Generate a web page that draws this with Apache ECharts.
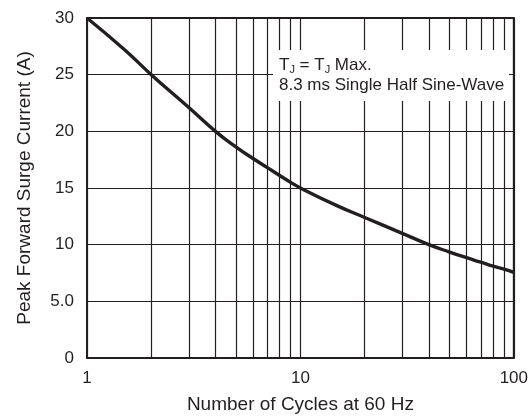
<!DOCTYPE html>
<html><head><meta charset="utf-8">
<script src="https://cdn.jsdelivr.net/npm/echarts@6/dist/echarts.min.js"></script>
<style>html,body{margin:0;padding:0;background:#fff}#c{width:531px;height:419px}</style>
</head><body><div id="c"></div>
<script>
const cycles = [1, 1.5, 2, 3, 4, 5, 6, 7, 8, 9, 10, 15, 20, 30, 40, 50, 60, 70, 80, 90, 100];
const current = [30, 27.2, 25, 22.1, 20.0, 18.6, 17.6, 16.8, 16.1, 15.5, 15.0, 13.4, 12.4, 11.0, 10.0, 9.35, 8.85, 8.45, 8.1, 7.85, 7.55];
const minorGridX = [2, 3, 4, 5, 6, 7, 8, 9, 20, 30, 40, 50, 60, 70, 80, 90];
const yTickLabels = ['0', '5.0', '10', '15', '20', '25', '30'];
const xTitle = 'Number of Cycles at 60 Hz';
const yTitle = 'Peak Forward Surge Current (A)';
const noteLine1 = 'T{s|J} = T{s|J} Max.';
const noteLine2 = '8.3 ms Single Half Sine-Wave';

const ink = '#231f20';
const font = '"Liberation Sans", Arial, Helvetica, sans-serif';
const chart = echarts.init(document.getElementById('c'), null, {renderer: 'canvas'});
chart.setOption({
  animation: false,
  backgroundColor: '#fff',
  textStyle: {fontFamily: font},
  grid: {left: 87, right: 17, top: 18, bottom: 54, show: true, borderColor: ink, borderWidth: 2},
  xAxis: {
    type: 'log', logBase: 10, min: 1, max: 100,
    name: xTitle, nameLocation: 'middle', nameGap: 37,
    nameTextStyle: {fontSize: 19, color: ink, fontFamily: font},
    axisLine: {show: false},
    axisTick: {show: false},
    axisLabel: {fontSize: 17, color: ink, fontFamily: font, margin: 12},
    splitLine: {show: true, lineStyle: {color: ink, width: 1.2}},
    minorTick: {show: false}, minorSplitLine: {show: false}
  },
  yAxis: {
    type: 'value', min: 0, max: 30, interval: 5,
    name: yTitle, nameLocation: 'middle', nameGap: 53,
    nameTextStyle: {fontSize: 19, color: ink, fontFamily: font},
    axisLine: {show: false}, axisTick: {show: false},
    axisLabel: {fontSize: 17, color: ink, fontFamily: font, margin: 13,
      formatter: v => yTickLabels[Math.round(v / 5)]},
    splitLine: {show: true, lineStyle: {color: ink, width: 1.2}}
  },
  series: [{
    type: 'line',
    data: cycles.map((c, i) => [c, current[i]]),
    smooth: 0.5, showSymbol: false,
    lineStyle: {color: ink, width: 3.4},
    z: 5,
    markLine: {
      silent: true, symbol: ['none', 'none'], label: {show: false},
      lineStyle: {color: ink, width: 1.2, type: 'solid'},
      data: minorGridX.map(x => ({xAxis: x}))
    }
  }],
  graphic: [
    {type: 'rect', z: 100, shape: {x: 273, y: 50, width: 236, height: 51}, style: {fill: '#fff'}},
    {type: 'text', z: 101, x: 279, y: 55, style: {
      text: noteLine1 + '\n' + noteLine2, fill: ink, font: '17px ' + font, lineHeight: 20,
      rich: {s: {fontSize: 11, fill: ink, padding: [9, 0, 0, 0], fontFamily: font, lineHeight: 20}}
    }}
  ]
});
</script></body></html>
